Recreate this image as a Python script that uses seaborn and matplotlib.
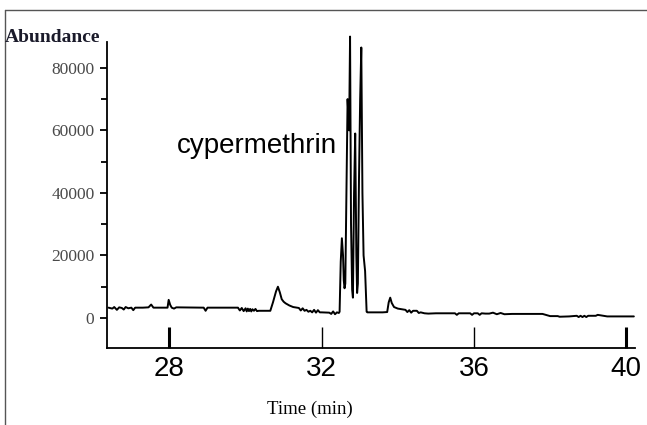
import numpy as np
import pandas as pd
import matplotlib.pyplot as plt
import seaborn as sns
from matplotlib.lines import Line2D


# chromatogram trace (time in min, abundance)
time_min = [
    26.40, 26.50, 26.55, 26.62, 26.68, 26.75, 26.80, 26.85, 26.92, 27.00,
    27.05, 27.10, 27.30, 27.45, 27.52, 27.58, 27.95, 27.98, 28.02, 28.06,
    28.12, 28.18, 28.90, 28.95, 29.00, 29.80, 29.85, 29.90, 29.95, 30.00,
    30.03, 30.06, 30.09, 30.12, 30.15, 30.18, 30.22, 30.26, 30.30, 30.35,
    30.65, 30.72, 30.80, 30.85, 30.90, 30.95, 31.00, 31.05, 31.15, 31.25,
    31.40, 31.45, 31.50, 31.55, 31.60, 31.65, 31.70, 31.75, 31.80, 31.85,
    31.90, 31.95, 32.00, 32.20, 32.25, 32.30, 32.35, 32.40, 32.45, 32.47,
    32.50, 32.53, 32.56, 32.58, 32.60, 32.62, 32.65, 32.68, 32.72, 32.745,
    32.77, 32.80, 32.82, 32.85, 32.88, 32.91, 32.93, 32.95, 32.98, 33.01,
    33.04, 33.07, 33.10, 33.14, 33.18, 33.20, 33.60, 33.72, 33.76, 33.80,
    33.84, 33.90, 34.00, 34.20, 34.25, 34.30, 34.35, 34.40, 34.50, 34.55,
    34.60, 34.70, 34.80, 35.00, 35.50, 35.55, 35.60, 35.90, 35.95, 36.00,
    36.10, 36.15, 36.20, 36.30, 36.40, 36.50, 36.60, 36.70, 36.80, 37.00,
    37.80, 38.00, 38.20, 38.25, 38.50, 38.70, 38.75, 38.80, 38.85, 38.90,
    38.95, 39.00, 39.20, 39.25, 39.40, 39.50, 40.20,
]
abundance = [
    3300, 3000, 3500, 2600, 3400, 3200, 2700, 3500, 3100, 3300,
    2500, 3300, 3300, 3400, 4300, 3300, 3300, 5800, 4200, 3300,
    3000, 3400, 3300, 2300, 3300, 3300, 2400, 3200, 2200, 3100,
    2100, 3000, 2200, 2900, 2100, 2800, 2300, 2900, 2200, 2300,
    2300, 5000, 8500, 10000, 8200, 6000, 5200, 4700, 4000, 3500,
    3200, 2400, 3100, 2300, 2600, 2000, 2300, 1800, 2600, 1700,
    2500, 1800, 1800, 1700, 1300, 2100, 1200, 1800, 1600, 2000,
    18000, 25500, 20000, 12000, 9500, 11000, 40000, 70000, 60000, 90000,
    30000, 9000, 6500, 40000, 59000, 20000, 8000, 11000, 45000, 70000,
    86500, 40000, 20000, 15000, 2000, 1800, 1800, 1900, 5000, 6500,
    4800, 3500, 3000, 2600, 1900, 2500, 1700, 2300, 2300, 1600,
    1800, 1500, 1400, 1500, 1500, 1000, 1500, 1500, 1000, 1500,
    1500, 1000, 1500, 1400, 1400, 1700, 1200, 1600, 1200, 1300,
    1300, 600, 600, 400, 500, 700, 300, 700, 300, 700,
    300, 700, 700, 1000, 700, 500, 500,
]

x_ticks = [28, 32, 36, 40]
y_ticks = [0, 20000, 40000, 60000, 80000]
y_minor = [10000, 30000, 50000, 70000]

df = pd.DataFrame({'time': time_min, 'abundance': abundance})

sns.set_style('white')
plt.rcParams['font.family'] = ['Liberation Serif', 'DejaVu Serif']

fig = plt.figure(figsize=(6.47, 4.25), dpi=100)
ax = fig.add_axes([107/647, 1 - 348/425, (635 - 107)/647, (348 - 35)/425])

sns.lineplot(data=df, x='time', y='abundance', ax=ax, color='black',
             linewidth=1.4, estimator=None, sort=False, clip_on=False)

ax.set_xlim(26.36, 40.23)
ax.set_ylim(-9600, 90500)

for side in ['top', 'right']:
    ax.spines[side].set_visible(False)
ax.spines['left'].set_bounds(-9600, 88300)
for side in ['left', 'bottom']:
    ax.spines[side].set_color('black')
    ax.spines[side].set_linewidth(1.3)

ax.set_xticks(x_ticks)
ax.set_xticklabels([str(t) for t in x_ticks], fontsize=20, color='black',
                   family=['Liberation Sans Narrow', 'Liberation Sans'])
ax.tick_params(axis='x', direction='in', length=15, width=1.0, pad=6,
               colors='black', bottom=True)
# end ticks drawn heavier in the original
for tl, t in zip(ax.xaxis.get_major_ticks(), x_ticks):
    if t in (28, 40):
        tl.tick1line.set_markeredgewidth(2.2)

ax.set_yticks(y_ticks)
ax.set_yticks(y_minor, minor=True)
ax.set_yticklabels([str(v) for v in y_ticks], fontsize=12.5, color='#4a4a4a')
ax.tick_params(axis='y', which='major', direction='out', length=5, width=1.3,
               pad=4, left=True, color='black')
ax.tick_params(axis='y', which='minor', direction='out', length=4, width=1.3,
               left=True, color='black')

ax.set_xlabel('')
ax.set_ylabel('')
ax.grid(False)

ax.text(28.2, 55000, 'cypermethrin', fontsize=20, color='black',
        family=['Liberation Sans', 'DejaVu Sans'], ha='left', va='center')

fig.text(5/647, 1 - 38/425, 'Abundance', fontsize=14, fontweight='bold',
         color='#1a1a2a', ha='left', va='center')
fig.text(310/647, 1 - 409/425, 'Time (min)', fontsize=13.5, color='black',
         ha='center', va='center')

# scanned page frame
fig.add_artist(Line2D([5/647, 1], [1 - 10/425, 1 - 10/425], color='#555555',
                      linewidth=1.0, transform=fig.transFigure))
fig.add_artist(Line2D([5/647, 5/647], [0, 1 - 10/425], color='#555555',
                      linewidth=1.0, transform=fig.transFigure))

fig.savefig('out.png', dpi=100)
